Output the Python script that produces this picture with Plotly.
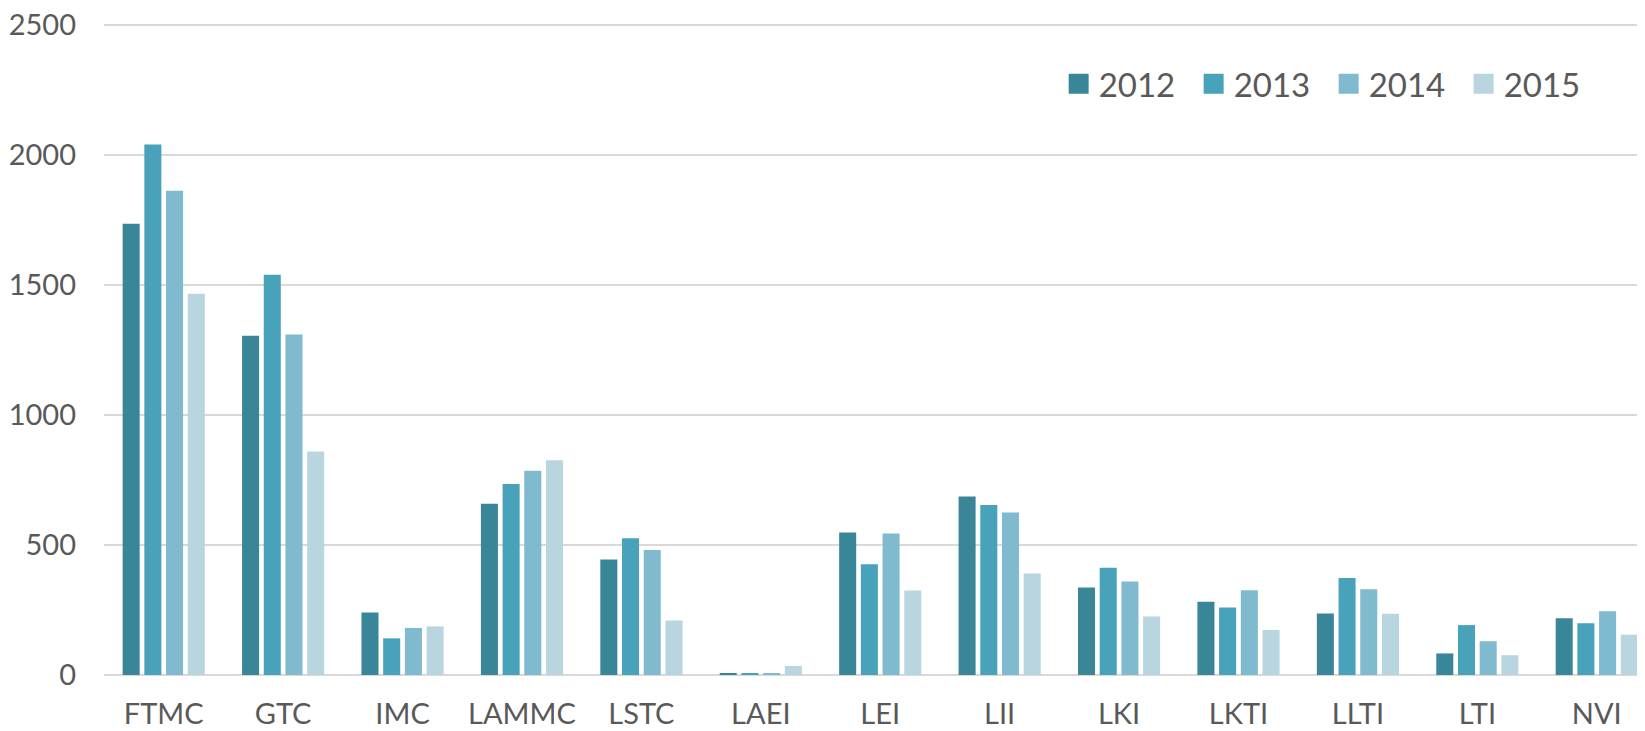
import plotly.graph_objects as go

categories = ["FTMC", "GTC", "IMC", "LAMMC", "LSTC", "LAEI", "LEI",
              "LII", "LKI", "LKTI", "LLTI", "LTI", "NVI"]
years = ["2012", "2013", "2014", "2015"]

values_2012 = [1736, 1305, 240, 659, 444, 5, 548, 687, 337, 282, 237, 83, 218]
values_2013 = [2041, 1540, 141, 735, 526, 6, 426, 654, 413, 260, 373, 192, 199]
values_2014 = [1863, 1310, 181, 786, 481, 4, 544, 625, 360, 326, 330, 130, 245]
values_2015 = [1467, 860, 187, 826, 210, 35, 325, 390, 225, 173, 236, 76, 155]

colors = ["#3A8699", "#48A2BA", "#7FBACF", "#B8D5E0"]

series = [values_2012, values_2013, values_2014, values_2015]

fig = go.Figure()

for year, vals, color in zip(years, series, colors):
    fig.add_trace(
        go.Bar(
            x=categories,
            y=vals,
            name=year,
            legendgroup=year,
            showlegend=False,
            marker=dict(color=color, line=dict(width=0)),
        )
    )

# legend proxies (bar legend squares are too small)
for year, color in zip(years, colors):
    fig.add_trace(
        go.Scatter(
            x=[None],
            y=[None],
            mode="markers",
            name=year,
            legendgroup=year,
            marker=dict(symbol="square", size=16, color=color,
                        line=dict(width=4, color=color)),
        )
    )

# page body has an 8px margin, so the figure is 8px smaller than the window
fig.update_layout(
    width=1637,
    height=723,
    margin=dict(l=96, r=0, t=14, b=56, autoexpand=False),
    paper_bgcolor="white",
    plot_bgcolor="white",
    barmode="group",
    bargap=0.273,
    bargroupgap=0.215,
    font=dict(family="Lato", size=29, color="#595959"),
    legend=dict(
        orientation="h",
        x=0.6195,
        y=0.9055,
        xanchor="left",
        yanchor="middle",
        font=dict(size=33, color="#595959"),
        bgcolor="rgba(0,0,0,0)",
        entrywidth=90,
        entrywidthmode="pixels",
    ),
)

fig.update_xaxes(
    type="category",
    range=[-0.5, 12.404],
    showgrid=False,
    showline=False,
    ticks="",
    automargin=False,
    ticklabelstandoff=19,
    tickfont=dict(size=29, color="#595959"),
)

# top slightly above 2500 so the 2500 gridline is not clipped away
fig.update_yaxes(
    range=[0, 2512],
    tickmode="linear",
    tick0=0,
    dtick=500,
    showgrid=True,
    gridcolor="#D9D9D9",
    gridwidth=2,
    zeroline=True,
    zerolinecolor="#D9D9D9",
    zerolinewidth=2,
    ticks="",
    automargin=False,
    ticklabeloverflow="allow",
    ticklabelstandoff=27,
    tickfont=dict(size=29, color="#595959"),
)

fig.write_html("out.html")
